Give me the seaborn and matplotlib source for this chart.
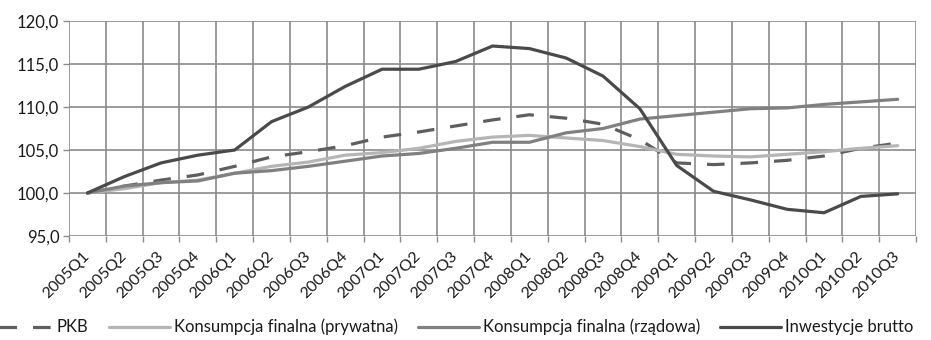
import numpy as np
import pandas as pd
import matplotlib
matplotlib.use("Agg")
import matplotlib.pyplot as plt
import matplotlib.transforms as mtransforms
import seaborn as sns
from matplotlib.ticker import FixedLocator, FuncFormatter

quarters = ["2005Q1", "2005Q2", "2005Q3", "2005Q4",
            "2006Q1", "2006Q2", "2006Q3", "2006Q4",
            "2007Q1", "2007Q2", "2007Q3", "2007Q4",
            "2008Q1", "2008Q2", "2008Q3", "2008Q4",
            "2009Q1", "2009Q2", "2009Q3", "2009Q4",
            "2010Q1", "2010Q2", "2010Q3"]

pkb = [100.0, 100.8, 101.5, 102.1, 103.1, 104.2, 104.8, 105.5,
       106.5, 107.1, 107.8, 108.5, 109.1, 108.7, 108.0, 106.2,
       103.5, 103.3, 103.5, 103.8, 104.3, 105.2, 105.8]
kons_pryw = [100.0, 100.5, 101.2, 101.5, 102.3, 103.1, 103.6, 104.4,
             104.7, 105.2, 106.0, 106.5, 106.7, 106.4, 106.1, 105.4,
             104.5, 104.3, 104.2, 104.5, 104.8, 105.2, 105.5]
kons_rzad = [100.0, 100.8, 101.2, 101.4, 102.3, 102.6, 103.1, 103.7,
             104.3, 104.6, 105.2, 105.9, 105.9, 107.0, 107.5, 108.6,
             109.0, 109.4, 109.8, 109.9, 110.3, 110.6, 110.9]
inwestycje = [100.0, 101.9, 103.5, 104.4, 105.0, 108.3, 110.0, 112.4,
              114.4, 114.4, 115.3, 117.1, 116.8, 115.7, 113.6, 109.8,
              103.2, 100.2, 99.2, 98.1, 97.7, 99.6, 99.9]

series_names = ["PKB", "Konsumpcja finalna (prywatna)",
                "Konsumpcja finalna (rządowa)", "Inwestycje brutto"]
series_values = [pkb, kons_pryw, kons_rzad, inwestycje]
series_colors = ["#5e5e5e", "#b5b5b5", "#808080", "#4a4a4a"]
series_styles = [(0, (5.5, 5.0)), "-", "-", "-"]

y_ticks = [95, 100, 105, 110, 115, 120]

sns.set_theme(style="white")
plt.rcParams["font.family"] = ["Lato", "DejaVu Sans"]

fig = plt.figure(figsize=(9.31, 3.40), dpi=100)
ax = fig.add_axes([0.0741, 0.306, 0.9099, 0.632])

for name, vals, col, ls in zip(series_names, series_values,
                               series_colors, series_styles):
    df = pd.DataFrame({"kwartal": quarters, "wartosc": vals})
    sns.lineplot(data=df, x="kwartal", y="wartosc", ax=ax, color=col,
                 linewidth=2.3, linestyle=ls, label=name, sort=False)

n = len(quarters)
ax.set_xlim(-0.5, n - 0.5)
ax.set_ylim(95, 120)
ax.set_xlabel("")
ax.set_ylabel("")

# category labels at centres, grid lines and tick marks between categories
ax.xaxis.set_major_locator(FixedLocator(np.arange(n)))
ax.set_xticklabels(quarters, rotation=45, ha="right", va="center",
                   rotation_mode="anchor", fontsize=11.5, color="#1a1a1a")
shift = mtransforms.ScaledTranslation(9 / 100, 0, fig.dpi_scale_trans)
for lab in ax.get_xticklabels():
    lab.set_transform(lab.get_transform() + shift)
ax.xaxis.set_minor_locator(FixedLocator(np.arange(-0.5, n, 1.0)))
ax.tick_params(axis="x", which="major", length=0, pad=13)
ax.tick_params(axis="x", which="minor", length=4, width=1.0,
               color="#8a8a8a", bottom=True)
ax.set_yticks(y_ticks)
ax.yaxis.set_major_formatter(FuncFormatter(lambda v, p: f"{v:.1f}".replace(".", ",")))
ax.tick_params(axis="y", which="major", length=4, width=1.0, color="#8a8a8a",
               left=True, labelsize=12, labelcolor="#1a1a1a", pad=3)

ax.grid(False)
ax.grid(True, axis="y", which="major", color="#8a8a8a", linewidth=1.2)
ax.grid(True, axis="x", which="minor", color="#8a8a8a", linewidth=1.2)
for s in ax.spines.values():
    s.set_visible(False)
ax.set_axisbelow(True)

handles, labels = ax.get_legend_handles_labels()
ax.get_legend().remove()
fig.legend(handles, labels, loc="center", bbox_to_anchor=(0.486, 0.038),
           ncol=4, frameon=False, fontsize=12, handlelength=3.7,
           handletextpad=0.2, columnspacing=1.2, labelcolor="#1a1a1a",
           borderaxespad=0, borderpad=0)

fig.savefig("out.png", dpi=100)
